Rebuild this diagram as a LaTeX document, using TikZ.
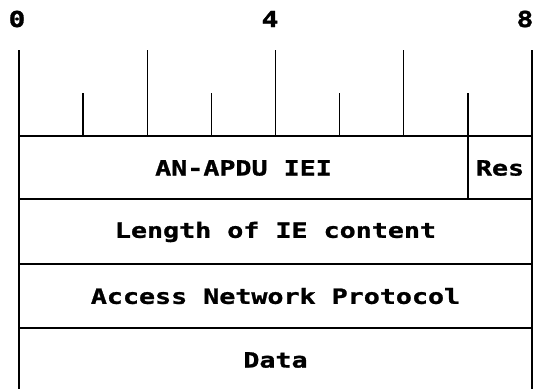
\documentclass[tikz,border=0pt]{standalone}
\usepackage{fontspec}
\newfontfamily\pixfont[FakeStretch=1.27,FakeBold=1.2]{DejaVu Sans Mono Bold}
\begin{document}
\begin{tikzpicture}[x=1pt,y=-1pt,
  rule/.style={line width=1.4pt,black},
  lbl/.style={font=\pixfont\fontsize{21}{21}\selectfont,inner sep=0pt,anchor=center},
  num/.style={font=\pixfont\fontsize{22}{22}\selectfont,inner sep=0pt,anchor=center}]
\useasboundingbox (0,0) rectangle (534,388);
\fill[white] (0,0) rectangle (534,388);
% ruler labels
\node[num] (n0) at (17,19) {0};
\node[num] (n4) at (270,19) {4};
\node[num] (n8) at (525,19) {8};
% ticks
\foreach \i in {0,...,8}{
  \pgfmathsetmacro{\xx}{19+64.125*\i}
  \ifodd\i
    \draw[rule] (\xx,93) -- (\xx,136);
  \else
    \draw[rule] (\xx,50) -- (\xx,136);
  \fi
}
% rows
\draw[rule] (19,136) -- (532,136);
\draw[rule] (19,199) -- (532,199);
\draw[rule] (19,264) -- (532,264);
\draw[rule] (19,328) -- (532,328);
\draw[rule] (19,136) -- (19,392);
\draw[rule] (532,136) -- (532,392);
\draw[rule] (468,136) -- (468,199);
% labels
\node[lbl] (iei) at (243.5,168) {AN-APDU IEI};
\node[lbl] (res) at (500,168) {Res};
\node[lbl] (len) at (275.5,232) {Length of IE content};
\node[lbl] (anp) at (275.5,296) {Access Network Protocol};
\node[lbl] (dat) at (275.5,360) {Data};
\end{tikzpicture}
\end{document}
